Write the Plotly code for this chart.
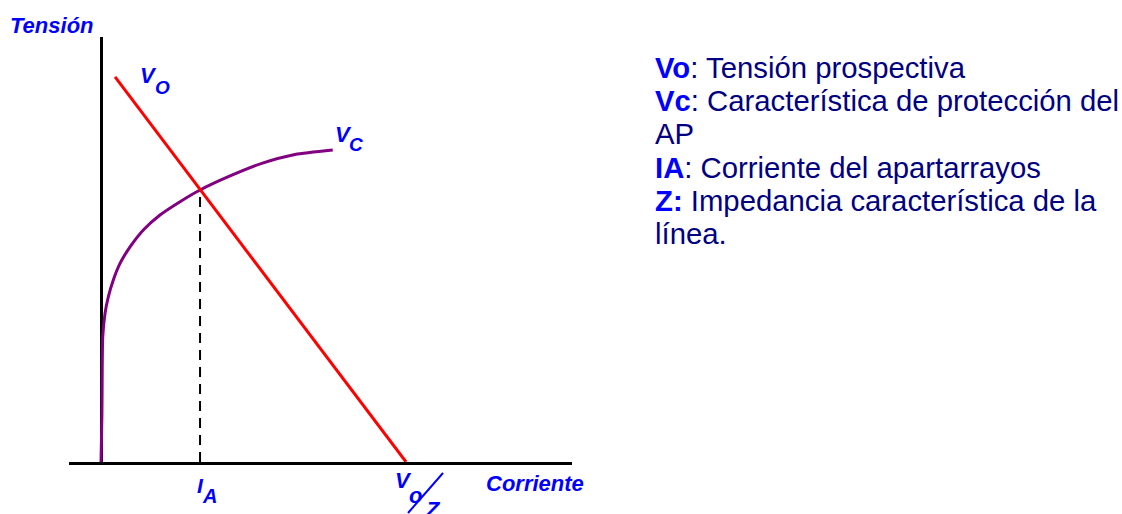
import plotly.graph_objects as go

# ---------------- data (arbitrary units) ----------------
# Vc: protection characteristic of the surge arrester (current, voltage)
vc_current = [0.0, 0.03, 0.04, 0.056, 0.131, 0.239, 0.403, 0.623, 0.951, 1.387, 1.934,
              2.590, 3.246, 4.174, 5.269, 6.361, 7.597]
vc_voltage = [0.0, 1.20, 2.40, 3.10, 3.68, 4.09, 4.51, 4.92, 5.33, 5.75, 6.12,
              6.45, 6.74, 7.07, 7.40, 7.62, 7.73]
# Vo: prospective voltage line (from near Vo down to Vo/Z)
vo_current = [0.46, 10.0]
vo_voltage = [9.54, 0.0]
# IA: arrester current (dashed drop line from the intersection)
ia_current = [3.246, 3.246]
ia_voltage = [0.0, 6.74]

x_range = [-1.05, 15.44]
y_range = [0.0, 10.53]

legend_bold = ["Vo", "Vc", "", "IA", "Z:"]
legend_rest = [": Tensión prospectiva", ": Característica de protección del", "AP",
               ": Corriente del apartarrayos", " Impedancia característica de la"]
legend_last = "línea."

# ---------------- layout helpers ----------------
W, H = 1122, 514
L, R, T, B = 69, 572, 37, 462
FONT = "Liberation Sans, Arial, sans-serif"
BLUE = "#0000FF"
NAVY = "#000080"


def px(x):
    return (x - L) / (R - L)


def py(y):
    return (B - y) / (B - T)


def ann(text, x_left, baseline, size, color=BLUE, bi=True):
    if bi:
        text = "<b><i>" + text + "</i></b>"
    yc = baseline - 0.3 * size
    return dict(text=text, x=px(x_left), y=py(yc), xref="paper", yref="paper",
                xanchor="left", yanchor="middle", showarrow=False,
                font=dict(family=FONT, size=size, color=color))


fig = go.Figure()
fig.add_trace(go.Scatter(x=vc_current, y=vc_voltage, mode="lines",
                         line=dict(color="#800080", width=3, shape="spline", smoothing=0.6),
                         hoverinfo="skip"))
fig.add_trace(go.Scatter(x=ia_current, y=ia_voltage, mode="lines",
                         line=dict(color="black", width=2, dash="10px,7px"),
                         hoverinfo="skip"))
fig.add_trace(go.Scatter(x=vo_current, y=vo_voltage, mode="lines",
                         line=dict(color="#FF0000", width=3),
                         hoverinfo="skip"))

annotations = [
    ann("Tensión", 8, 32, 22),
    ann("V", 138, 82, 22), ann("O", 153, 93, 19),
    ann("V", 333, 141, 22), ann("C", 347, 150, 19),
    ann("I", 195, 492, 21), ann("A", 200, 502, 20),
    ann("V", 393, 487, 22), ann("o", 407, 502, 22),
    ann("Z", 423, 516, 22),
    ann("Corriente", 484, 490, 22),
]

baselines = [76 + 33.3 * i for i in range(6)]
for i in range(5):
    t = legend_rest[i]
    if legend_bold[i]:
        t = "<b><span style='color:%s'>%s</span></b>%s" % (BLUE, legend_bold[i], t)
    annotations.append(ann(t, 653, baselines[i], 29.3, color=NAVY, bi=False))
annotations.append(ann(legend_last, 653, baselines[5], 29.3, color=NAVY, bi=False))

fig.update_layout(
    width=W, height=H, autosize=False,
    margin=dict(l=L, r=W - R, t=T, b=H - B, pad=0),
    paper_bgcolor="white", plot_bgcolor="white",
    showlegend=False,
    annotations=annotations,
    shapes=[dict(type="line", xref="paper", yref="paper",
                 x0=px(408), y0=py(513), x1=px(443), y1=py(473),
                 line=dict(color=BLUE, width=2))],
    xaxis=dict(range=x_range, showgrid=False, showticklabels=False, ticks="",
               showline=True, linecolor="black", linewidth=3, layer="below traces",
               zeroline=True, zerolinecolor="black", zerolinewidth=3, fixedrange=True),
    yaxis=dict(range=y_range, showgrid=False, showticklabels=False, ticks="",
               showline=False, zeroline=False, fixedrange=True),
)

fig.write_html("out.html", config={"displayModeBar": False},
               post_script="document.body.style.margin='0px';document.body.style.overflow='hidden';")
